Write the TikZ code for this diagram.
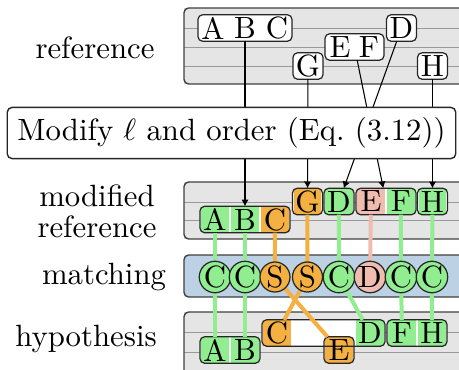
\documentclass[tikz,border=0pt]{standalone}
\usepackage{amsmath}
\usepackage{tikz}
\usetikzlibrary{fit}
\usetikzlibrary{arrows.meta}

\definecolor{okgreen}{RGB}{144,238,144}
\definecolor{okorange}{RGB}{245,176,66}
\definecolor{okpink}{RGB}{240,188,176}
\definecolor{matchblue}{RGB}{188,210,228}

\pgfdeclarelayer{back}
\pgfdeclarelayer{fills}
\pgfdeclarelayer{front}
\pgfsetlayers{back,fills,main,front}

\tikzset{
  panel/.style={draw=black!75, line width=0.45pt, rounded corners=1.5pt},
  rule/.style={draw=black!40, line width=0.3pt},
  tok/.style={minimum width=9.75pt, minimum height=8.6pt, inner sep=0pt, outer sep=0pt},
  word/.style={draw=black!85, line width=0.4pt, rounded corners=1.5pt, inner sep=0pt, outer sep=0pt},
  dot/.style={circle, draw=black!85, line width=0.4pt, minimum size=9.75pt, inner sep=0pt},
  link/.style={line width=1.3pt}
}

\begin{document}
\begin{tikzpicture}[x=0.325pt, y=-0.325pt, >={Latex[length=2.2pt,width=2.4pt]}]
\useasboundingbox (0,0) rectangle (459,369);

% panels and their rows
\begin{pgfonlayer}{back}
\fill[gray!20] (184,8) rectangle (480,84);
\foreach \y in {28,47,66} \draw[rule] (184,\y) -- (480,\y);
\draw[panel] (184,8) rectangle (480,84);
\fill[gray!20] (184,182) rectangle (480,239);
\foreach \y in {202,220.5} \draw[rule] (184,\y) -- (480,\y);
\draw[panel] (184,182) rectangle (480,239);
\draw[panel, fill=matchblue] (184,255) rectangle (480,297);
\fill[gray!20] (184,312) rectangle (480,390);
\foreach \y in {332,352} \draw[rule] (184,\y) -- (480,\y);
\draw[panel] (184,312) rectangle (480,390);
\end{pgfonlayer}

\node (lblRef) at (95,48) {reference};
\node[align=center] (lblMod) at (97,211) {modified\\[-2pt]reference};
\node (lblMatch) at (104,277) {matching};
\node (lblHyp) at (86,339) {hypothesis};

% reference
\node[tok] (rA) at (213,28) {A};
\node[tok] (rB) at (245,28) {B};
\node[tok] (rC) at (277,28) {C};
\node[word, fit=(rA)(rC)] (rABC) {};
\node[tok] (rE) at (340,47) {E};
\node[tok] (rF) at (369,47) {F};
\node[word, fit=(rE)(rF)] (rEF) {};
\node[tok, word] (rD) at (401.5,28) {D};
\node[tok, word] (rG) at (308,66) {G};
\node[tok, word] (rH) at (432.5,66) {H};

% modified reference
\node[tok] (mA) at (215,219.5) {A};
\node[tok] (mB) at (245,219.5) {B};
\node[tok] (mC) at (275,219.5) {C};
\node[word, fit=(mA)(mC)] (mABC) {};
\node[tok, word] (mG) at (307.5,201.5) {G};
\node[tok, word] (mD) at (339,201.5) {D};
\node[tok] (mE) at (371,201.5) {E};
\node[tok] (mF) at (401,201.5) {F};
\node[word, fit=(mE)(mF)] (mEF) {};
\node[tok, word] (mH) at (432.5,201.5) {H};

% hypothesis
\node[tok] (hA) at (215,350) {A};
\node[tok] (hB) at (245,350) {B};
\node[word, fit=(hA)(hB)] (hAB) {};
\node[tok] (hC) at (277,333) {C};
\node[tok] (hD) at (370,333) {D};
\node[word, fit=(hC)(hD)] (hCD) {};
\node[tok, word] (hE) at (339,350) {E};
\node[tok] (hF) at (402,333) {F};
\node[tok] (hH) at (432,333) {H};
\node[word, fit=(hF)(hH)] (hFH) {};

% box backgrounds and token colours
\begin{pgfonlayer}{fills}
\begin{scope}
\clip[rounded corners=1.5pt] \foreach \w in {rABC,rEF,rD,rG,rH,mABC,mG,mD,mEF,mH,hAB,hCD,hE,hFH} {(\w.south west) rectangle (\w.north east)};
\fill[white] (184,0) rectangle (480,369);
\foreach \t/\c in {mA/okgreen,mB/okgreen,mC/okorange,mG/okorange,mD/okgreen,mE/okpink,mF/okgreen,mH/okgreen,
                   hA/okgreen,hB/okgreen,hC/okorange,hD/okgreen,hE/okorange,hF/okgreen,hH/okgreen}
  \fill[\c] ([xshift=.35pt]\t.south west) rectangle ([xshift=-.35pt]\t.north east);
\end{scope}
\end{pgfonlayer}

\draw[->, line width=0.35pt] (rABC) -- (mABC);
\draw[->, line width=0.35pt] (rG) -- (mG);
\draw[->, line width=0.35pt] (rEF) -- (mEF);
\draw[->, line width=0.35pt] (rD) -- (mD);
\draw[->, line width=0.35pt] (rH) -- (mH);

% matching
\draw[link, okgreen] (mA) -- (215,277) -- (hA);
\draw[link, okgreen] (mB) -- (245,277) -- (hB);
\draw[link, okorange] (mC) -- (275,277) -- (hE);
\draw[link, okorange] (mG) -- (307.5,277) -- (hC);
\draw[link, okgreen] (mD) -- (339,277) -- (hD);
\draw[link, okpink] (mE) -- (370,277);
\draw[link, okgreen] (mF) -- (401,277) -- (hF);
\draw[link, okgreen] (mH) -- (432,277) -- (hH);

\node[dot, fill=okgreen] (xA) at (215,277) {C};
\node[dot, fill=okgreen] (xB) at (245,277) {C};
\node[dot, fill=okorange] (xC) at (275,277) {S};
\node[dot, fill=okorange] (xG) at (307.5,277) {S};
\node[dot, fill=okgreen] (xD) at (339,277) {C};
\node[dot, fill=okpink] (xE) at (370,277) {D};
\node[dot, fill=okgreen] (xF) at (401,277) {C};
\node[dot, fill=okgreen] (xH) at (432,277) {C};

\begin{pgfonlayer}{front}
\node[draw=black!85, fill=white, rounded corners=1.6pt, line width=0.45pt,
      minimum width=145.3pt, minimum height=16.25pt] (modify) at (231.5,133)
      {Modify $\ell$ and order (Eq.~(3.12))};
\end{pgfonlayer}
\end{tikzpicture}
\end{document}
